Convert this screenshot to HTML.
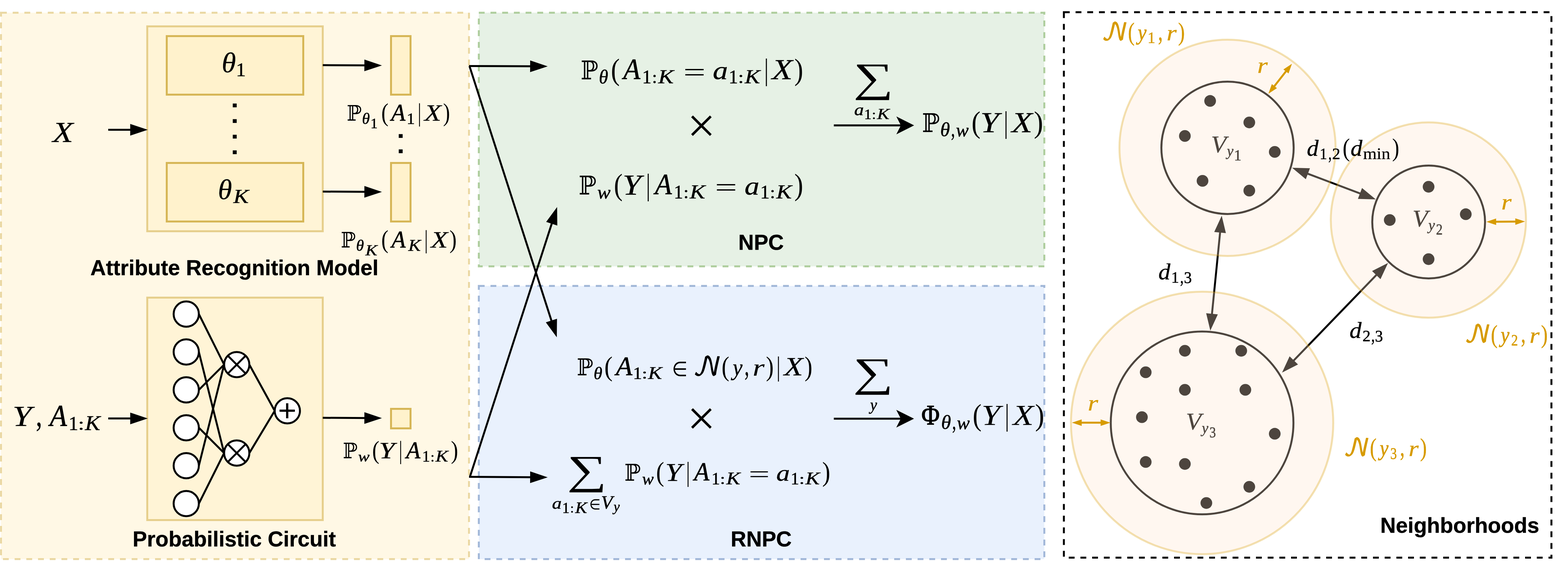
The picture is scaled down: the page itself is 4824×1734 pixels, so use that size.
<!DOCTYPE html>
<html lang="en">
<head>
<meta charset="utf-8">
<title>NPC and RNPC overview</title>
<style>
html,body{margin:0;padding:0;background:#fff}
svg{display:block;will-change:transform}

.sb{font-family:"Liberation Sans","DejaVu Sans",sans-serif;font-weight:700}
.sn{font-family:"Liberation Sans","DejaVu Sans",sans-serif;font-size:100px}
.it{font-family:"Liberation Serif","DejaVu Serif",serif;font-style:italic;font-size:100px}
.rm{font-family:"Liberation Serif","DejaVu Serif",serif;font-size:100px}
.ds{font-family:"DejaVu Serif","DejaVu Sans",serif;font-size:100px}
.dn{font-family:"DejaVu Sans","DejaVu Serif",sans-serif;font-size:100px}
.dm{font-family:"DejaVu Math TeX Gyre","DejaVu Serif","DejaVu Sans",serif;font-size:100px}
</style>
</head>
<body>
<svg width="4824" height="1734" viewBox="0 0 4824 1734">
<g id="panels">
<rect x="3" y="39" width="1440" height="1680" fill="#fff2cc" stroke="#d6b656" stroke-width="6" stroke-dasharray="18 18" fill-opacity="0.5" stroke-opacity="0.5"/>
<rect x="1473" y="39" width="1740" height="780" fill="#d5e8d4" stroke="#82b366" stroke-width="6" stroke-dasharray="18 18" fill-opacity="0.6" stroke-opacity="0.6"/>
<rect x="1473" y="879" width="1740" height="840" fill="#dae8fc" stroke="#6c8ebf" stroke-width="6" stroke-dasharray="18 18" fill-opacity="0.6" stroke-opacity="0.6"/>
<rect x="3273" y="37.5" width="1500" height="1677" fill="none" stroke="#000" stroke-width="6" stroke-dasharray="18 18"/>
</g>
<g id="left">
<rect x="453" y="81" width="540" height="630" fill="#fff2cc" stroke="#d6b656" stroke-width="6" fill-opacity="0.6" stroke-opacity="0.6"/>
<rect x="513" y="111" width="420" height="180" fill="#fff2cc" stroke="#d6b656" stroke-width="6"/>
<rect x="513" y="501" width="420" height="180" fill="#fff2cc" stroke="#d6b656" stroke-width="6"/>
<rect x="1203" y="111" width="60" height="180" fill="#fff2cc" stroke="#d6b656" stroke-width="6"/>
<rect x="1203" y="501" width="60" height="180" fill="#fff2cc" stroke="#d6b656" stroke-width="6"/>
<rect x="453" y="915" width="540" height="684" fill="#fff2cc" stroke="#d6b656" stroke-width="6" fill-opacity="0.6" stroke-opacity="0.6"/>
<rect x="1203" y="1257" width="60" height="60" fill="#fff2cc" stroke="#d6b656" stroke-width="6"/>
<text class="sn" transform="matrix(1.2708 0 0 1.0941 704.60 329.70)">.</text>
<text class="sn" transform="matrix(1.2708 0 0 1.0941 704.60 377.80)">.</text>
<text class="sn" transform="matrix(1.2708 0 0 1.0941 704.60 425.70)">.</text>
<text class="sn" transform="matrix(1.2708 0 0 1.0941 704.60 473.60)">.</text>
<text class="sn" transform="matrix(1.2603 0 0 1.0941 1215.29 423.90)">.</text>
<text class="sn" transform="matrix(1.2603 0 0 1.0941 1215.29 471.20)">.</text>
<line x1="333" y1="399" x2="403.6" y2="399" stroke="#000" stroke-width="6"/>
<polygon points="454.6,399 400.6,417 400.6,381" fill="#000"/>
<line x1="993" y1="200.3" x2="1124" y2="201" stroke="#000" stroke-width="6"/>
<polygon points="1175,201.3 1120.9,219 1121.1,183" fill="#000"/>
<line x1="993" y1="589" x2="1124" y2="589.7" stroke="#000" stroke-width="6"/>
<polygon points="1175,590 1120.9,607.7 1121.1,571.7" fill="#000"/>
<line x1="333" y1="1286.4" x2="403.6" y2="1286.4" stroke="#000" stroke-width="6"/>
<polygon points="454.6,1286.4 400.6,1304.4 400.6,1268.4" fill="#000"/>
<line x1="993" y1="1284.5" x2="1124" y2="1285.2" stroke="#000" stroke-width="6"/>
<polygon points="1175,1285.5 1120.9,1303.2 1121.1,1267.2" fill="#000"/>
<line x1="611.8" y1="965.6" x2="689.5" y2="1121" stroke="#000" stroke-width="6"/>
<line x1="611.8" y1="1082.1" x2="689.5" y2="1392.9" stroke="#000" stroke-width="6"/>
<line x1="611.8" y1="1198.6" x2="689.5" y2="1121" stroke="#000" stroke-width="6"/>
<line x1="611.8" y1="1315.2" x2="689.5" y2="1392.9" stroke="#000" stroke-width="6"/>
<line x1="611.8" y1="1431.7" x2="689.5" y2="1121" stroke="#000" stroke-width="6"/>
<line x1="611.8" y1="1548.2" x2="689.5" y2="1392.9" stroke="#000" stroke-width="6"/>
<line x1="767.1" y1="1121" x2="845.2" y2="1263" stroke="#000" stroke-width="6"/>
<line x1="767.1" y1="1392.9" x2="845.2" y2="1263" stroke="#000" stroke-width="6"/>
<circle cx="573" cy="965.6" r="38.8" fill="#fff" stroke="#000" stroke-width="6"/>
<circle cx="573" cy="1082.1" r="38.8" fill="#fff" stroke="#000" stroke-width="6"/>
<circle cx="573" cy="1198.6" r="38.8" fill="#fff" stroke="#000" stroke-width="6"/>
<circle cx="573" cy="1315.2" r="38.8" fill="#fff" stroke="#000" stroke-width="6"/>
<circle cx="573" cy="1431.7" r="38.8" fill="#fff" stroke="#000" stroke-width="6"/>
<circle cx="573" cy="1548.2" r="38.8" fill="#fff" stroke="#000" stroke-width="6"/>
<circle cx="728.3" cy="1121" r="38.8" fill="#fff" stroke="#000" stroke-width="6"/>
<line x1="700.9" y1="1093.6" x2="755.7" y2="1148.5" stroke="#000" stroke-width="6"/>
<line x1="700.9" y1="1148.5" x2="755.7" y2="1093.6" stroke="#000" stroke-width="6"/>
<circle cx="728.3" cy="1392.9" r="38.8" fill="#fff" stroke="#000" stroke-width="6"/>
<line x1="700.9" y1="1365.5" x2="755.7" y2="1420.3" stroke="#000" stroke-width="6"/>
<line x1="700.9" y1="1420.3" x2="755.7" y2="1365.5" stroke="#000" stroke-width="6"/>
<circle cx="884" cy="1263" r="38.8" fill="#fff" stroke="#000" stroke-width="6"/>
<text class="sn" transform="matrix(0.9715 0 0 0.9463 855.26 1294.42)">+</text>
<text class="sb" transform="matrix(1 0 0 1.02 278.1 846.1)" font-size="66.2" stroke="#000" stroke-width="0.6" stroke-linejoin="round">Attribute Recognition Model</text>
<text class="sb" transform="matrix(1 0 0 1.02 408.1 1679.7)" font-size="66.2" stroke="#000" stroke-width="0.6" stroke-linejoin="round">Probabilistic Circuit</text>
<text class="it" transform="matrix(1.0425 0 0 0.8936 161.71 436.25)" stroke="#000" stroke-width="0.52" stroke-linejoin="round">X</text>
<text class="it" transform="matrix(1.0648 0 0 0.8921 38.42 1308.70)" stroke="#000" stroke-width="0.61" stroke-linejoin="round">Y</text>
<text class="rm" transform="matrix(0.7856 0 0 1.0441 110.21 1309.50)" stroke="#000" stroke-width="0.44" stroke-linejoin="round">,</text>
<text class="it" transform="matrix(0.8670 0 0 0.9219 152.94 1308.50)" stroke="#000" stroke-width="1.12" stroke-linejoin="round">A</text>
<text class="rm" transform="matrix(0.6022 0 0 0.6041 210.81 1321.50)" stroke="#000" stroke-width="1.33" stroke-linejoin="round">1</text>
<text class="rm" transform="matrix(0.7053 0 0 0.5268 240.02 1320.75)" stroke="#000" stroke-width="1.30" stroke-linejoin="round">:</text>
<text class="it" transform="matrix(0.7011 0 0 0.6250 261.52 1321.50)" stroke="#000" stroke-width="1.21" stroke-linejoin="round">K</text>
<text class="it" transform="matrix(0.8927 0 0 0.8566 681.94 222.02)" stroke="#000" stroke-width="0.46" stroke-linejoin="round">θ</text>
<text class="rm" transform="matrix(0.6135 0 0 0.5977 725.71 234.20)" stroke="#000" stroke-width="1.32" stroke-linejoin="round">1</text>
<text class="it" transform="matrix(0.8808 0 0 0.8566 670.40 611.82)" stroke="#000" stroke-width="0.46" stroke-linejoin="round">θ</text>
<text class="it" transform="matrix(0.7053 0 0 0.6183 718.03 624.20)" stroke="#000" stroke-width="1.21" stroke-linejoin="round">K</text>
<text class="ds" transform="matrix(0.6116 0 0 0.6596 1066.63 371.40)">ℙ</text>
<text class="it" transform="matrix(0.4869 0 0 0.4907 1113.82 380.72)" stroke="#000" stroke-width="1.64" stroke-linejoin="round">θ</text>
<text class="rm" transform="matrix(0.4403 0 0 0.4469 1139.83 394.30)" stroke="#000" stroke-width="1.80" stroke-linejoin="round">1</text>
<text class="rm" transform="matrix(0.6658 0 0 0.7764 1172.97 372.47)">(</text>
<text class="it" transform="matrix(0.7161 0 0 0.7484 1203.62 370.90)" stroke="#000" stroke-width="1.37" stroke-linejoin="round">A</text>
<text class="rm" transform="matrix(0.5084 0 0 0.4900 1250.93 380.70)" stroke="#000" stroke-width="1.60" stroke-linejoin="round">1</text>
<text class="rm" transform="matrix(0.5371 0 0 0.7731 1285.37 372.24)">|</text>
<text class="it" transform="matrix(0.8547 0 0 0.7267 1305.49 371.15)" stroke="#000" stroke-width="0.63" stroke-linejoin="round">X</text>
<text class="rm" transform="matrix(0.6346 0 0 0.7764 1363.25 372.47)">)</text>
<text class="ds" transform="matrix(0.6101 0 0 0.6596 1048.54 761.40)">ℙ</text>
<text class="it" transform="matrix(0.4893 0 0 0.4907 1095.51 770.72)" stroke="#000" stroke-width="1.63" stroke-linejoin="round">θ</text>
<text class="it" transform="matrix(0.5473 0 0 0.4624 1124.24 785.10)" stroke="#000" stroke-width="1.58" stroke-linejoin="round">K</text>
<text class="rm" transform="matrix(0.6619 0 0 0.7764 1173.09 762.47)">(</text>
<text class="it" transform="matrix(0.7116 0 0 0.7484 1204.39 760.90)" stroke="#000" stroke-width="1.37" stroke-linejoin="round">A</text>
<text class="it" transform="matrix(0.5695 0 0 0.5070 1256.27 770.70)" stroke="#000" stroke-width="1.49" stroke-linejoin="round">K</text>
<text class="rm" transform="matrix(0.5371 0 0 0.7731 1305.67 762.24)">|</text>
<text class="it" transform="matrix(0.8532 0 0 0.7267 1325.78 761.15)" stroke="#000" stroke-width="0.63" stroke-linejoin="round">X</text>
<text class="rm" transform="matrix(0.6658 0 0 0.7764 1382.65 762.47)">)</text>
<text class="ds" transform="matrix(0.6028 0 0 0.6596 1054.77 1409.10)">ℙ</text>
<text class="it" transform="matrix(0.5285 0 0 0.4650 1101.84 1419.19)" stroke="#000" stroke-width="1.61" stroke-linejoin="round">w</text>
<text class="rm" transform="matrix(0.6658 0 0 0.7764 1145.07 1410.17)">(</text>
<text class="it" transform="matrix(0.8743 0 0 0.7252 1165.81 1408.80)" stroke="#000" stroke-width="0.75" stroke-linejoin="round">Y</text>
<text class="rm" transform="matrix(0.5371 0 0 0.7731 1227.27 1409.94)">|</text>
<text class="it" transform="matrix(0.7161 0 0 0.7484 1249.52 1408.60)" stroke="#000" stroke-width="1.37" stroke-linejoin="round">A</text>
<text class="rm" transform="matrix(0.4857 0 0 0.4900 1298.63 1419.10)" stroke="#000" stroke-width="1.64" stroke-linejoin="round">1</text>
<text class="rm" transform="matrix(0.4589 0 0 0.4262 1324.17 1418.50)" stroke="#000" stroke-width="1.81" stroke-linejoin="round">:</text>
<text class="it" transform="matrix(0.5806 0 0 0.5070 1340.08 1419.10)" stroke="#000" stroke-width="1.47" stroke-linejoin="round">K</text>
<text class="rm" transform="matrix(0.6658 0 0 0.7764 1387.35 1410.17)">)</text>
</g>
<g id="mid">
<line x1="1443" y1="203" x2="1634" y2="203.8" stroke="#000" stroke-width="6"/>
<polygon points="1685,204 1630.9,221.8 1631.1,185.8" fill="#000"/>
<line x1="1444.3" y1="203" x2="1697.4" y2="988.5" stroke="#000" stroke-width="6"/>
<polygon points="1713,1037 1679.3,991.1 1713.6,980.1" fill="#000"/>
<line x1="1443" y1="1466" x2="1634" y2="1467.2" stroke="#000" stroke-width="6"/>
<polygon points="1685,1467.5 1630.9,1485.2 1631.1,1449.2" fill="#000"/>
<line x1="1445.7" y1="1466" x2="1698.3" y2="685" stroke="#000" stroke-width="6"/>
<polygon points="1714,636.5 1714.5,693.4 1680.3,682.3" fill="#000"/>
<text class="ds" transform="matrix(0.7189 0 0 0.7992 1786.23 243.60)">ℙ</text>
<text class="it" transform="matrix(0.5800 0 0 0.5969 1842.47 255.82)" stroke="#000" stroke-width="1.36" stroke-linejoin="round">θ</text>
<text class="rm" transform="matrix(0.8176 0 0 0.9407 1879.61 244.90)">(</text>
<text class="it" transform="matrix(0.8551 0 0 0.9100 1917.68 243.10)" stroke="#000" stroke-width="1.13" stroke-linejoin="round">A</text>
<text class="rm" transform="matrix(0.5795 0 0 0.5963 1975.51 255.80)" stroke="#000" stroke-width="1.36" stroke-linejoin="round">1</text>
<text class="rm" transform="matrix(0.5779 0 0 0.5199 2005.63 255.06)" stroke="#000" stroke-width="1.46" stroke-linejoin="round">:</text>
<text class="it" transform="matrix(0.7122 0 0 0.6168 2025.03 255.80)" stroke="#000" stroke-width="1.20" stroke-linejoin="round">K</text>
<text class="rm" transform="matrix(1.2142 0 0 0.7984 2102.15 248.78)">=</text>
<text class="it" transform="matrix(0.9292 0 0 0.7874 2192.93 243.35)" stroke="#000" stroke-width="0.70" stroke-linejoin="round">a</text>
<text class="rm" transform="matrix(0.5738 0 0 0.5963 2241.86 255.80)" stroke="#000" stroke-width="1.37" stroke-linejoin="round">1</text>
<text class="rm" transform="matrix(0.6458 0 0 0.5199 2270.59 255.06)" stroke="#000" stroke-width="1.37" stroke-linejoin="round">:</text>
<text class="it" transform="matrix(0.7053 0 0 0.6168 2291.13 255.80)" stroke="#000" stroke-width="1.21" stroke-linejoin="round">K</text>
<text class="rm" transform="matrix(0.6508 0 0 0.9368 2351.19 244.62)">|</text>
<text class="it" transform="matrix(1.0469 0 0 0.8821 2374.63 243.35)" stroke="#000" stroke-width="0.52" stroke-linejoin="round">X</text>
<text class="rm" transform="matrix(0.8176 0 0 0.9407 2443.77 244.90)">)</text>
<text class="ds" transform="matrix(0.7278 0 0 0.7992 1779.99 597.80)">ℙ</text>
<text class="it" transform="matrix(0.6150 0 0 0.5670 1837.43 610.31)" stroke="#000" stroke-width="1.35" stroke-linejoin="round">w</text>
<text class="rm" transform="matrix(0.8060 0 0 0.9407 1888.86 599.10)">(</text>
<text class="it" transform="matrix(1.0359 0 0 0.8806 1915.28 597.50)" stroke="#000" stroke-width="0.63" stroke-linejoin="round">Y</text>
<text class="rm" transform="matrix(0.6508 0 0 0.9368 1987.79 598.82)">|</text>
<text class="it" transform="matrix(0.8506 0 0 0.9100 2014.95 597.30)" stroke="#000" stroke-width="1.14" stroke-linejoin="round">A</text>
<text class="rm" transform="matrix(0.5709 0 0 0.5963 2072.88 610.20)" stroke="#000" stroke-width="1.37" stroke-linejoin="round">1</text>
<text class="rm" transform="matrix(0.5949 0 0 0.5199 2102.49 609.46)" stroke="#000" stroke-width="1.44" stroke-linejoin="round">:</text>
<text class="it" transform="matrix(0.7122 0 0 0.6168 2122.03 610.20)" stroke="#000" stroke-width="1.20" stroke-linejoin="round">K</text>
<text class="rm" transform="matrix(1.2120 0 0 0.7984 2199.46 602.98)">=</text>
<text class="it" transform="matrix(0.9107 0 0 0.7874 2290.79 597.55)" stroke="#000" stroke-width="0.71" stroke-linejoin="round">a</text>
<text class="rm" transform="matrix(0.5823 0 0 0.5963 2338.78 610.20)" stroke="#000" stroke-width="1.36" stroke-linejoin="round">1</text>
<text class="rm" transform="matrix(0.5949 0 0 0.5199 2368.59 609.46)" stroke="#000" stroke-width="1.44" stroke-linejoin="round">:</text>
<text class="it" transform="matrix(0.7136 0 0 0.6168 2388.34 610.20)" stroke="#000" stroke-width="1.20" stroke-linejoin="round">K</text>
<text class="rm" transform="matrix(0.8176 0 0 0.9407 2443.77 599.10)">)</text>
<text class="ds" transform="matrix(0.6719 0 0 0.7205 1774.55 1153.80)">ℙ</text>
<text class="it" transform="matrix(0.5442 0 0 0.5370 1826.14 1164.52)" stroke="#000" stroke-width="1.48" stroke-linejoin="round">θ</text>
<text class="rm" transform="matrix(0.7670 0 0 0.8481 1859.33 1154.97)">(</text>
<text class="it" transform="matrix(0.8327 0 0 0.8189 1894.85 1153.30)" stroke="#000" stroke-width="1.21" stroke-linejoin="round">A</text>
<text class="rm" transform="matrix(0.5624 0 0 0.5364 1947.26 1164.50)" stroke="#000" stroke-width="1.46" stroke-linejoin="round">1</text>
<text class="rm" transform="matrix(0.6373 0 0 0.4671 1974.26 1163.84)" stroke="#000" stroke-width="1.45" stroke-linejoin="round">:</text>
<text class="it" transform="matrix(0.6429 0 0 0.5549 1993.65 1164.50)" stroke="#000" stroke-width="1.34" stroke-linejoin="round">K</text>
<text class="dn" transform="matrix(0.5484 0 0 0.6197 2067.41 1156.27)">∈</text>
<text class="dm" transform="matrix(0.7964 0 0 0.7926 2131.63 1153.48)" stroke="#000" stroke-width="1.01" stroke-linejoin="round">𝒩</text>
<text class="rm" transform="matrix(0.7125 0 0 0.8481 2220.07 1154.97)">(</text>
<text class="it" transform="matrix(0.6764 0 0 0.7284 2254.25 1153.54)" stroke="#000" stroke-width="0.85" stroke-linejoin="round">y</text>
<text class="rm" transform="matrix(0.5708 0 0 0.9276 2290.53 1154.25)" stroke="#000" stroke-width="0.53" stroke-linejoin="round">,</text>
<text class="it" transform="matrix(0.9415 0 0 0.7351 2315.38 1154.55)" stroke="#000" stroke-width="0.24" stroke-linejoin="round">r</text>
<text class="rm" transform="matrix(0.7125 0 0 0.8481 2356.60 1154.97)">)</text>
<text class="rm" transform="matrix(0.5867 0 0 0.8445 2388.88 1154.72)">|</text>
<text class="it" transform="matrix(0.9612 0 0 0.7945 2411.94 1153.55)" stroke="#000" stroke-width="0.57" stroke-linejoin="round">X</text>
<text class="rm" transform="matrix(0.7242 0 0 0.8481 2475.17 1154.97)">)</text>
<text class="ds" transform="matrix(0.6675 0 0 0.7149 1920.97 1477.80)">ℙ</text>
<text class="it" transform="matrix(0.5364 0 0 0.5054 1975.62 1489.20)" stroke="#000" stroke-width="1.54" stroke-linejoin="round">w</text>
<text class="rm" transform="matrix(0.7476 0 0 0.8415 2018.61 1478.96)">(</text>
<text class="it" transform="matrix(0.9236 0 0 0.7867 2046.62 1477.50)" stroke="#000" stroke-width="0.70" stroke-linejoin="round">Y</text>
<text class="rm" transform="matrix(0.5822 0 0 0.8379 2110.92 1478.71)">|</text>
<text class="it" transform="matrix(0.7684 0 0 0.8124 2135.60 1477.30)" stroke="#000" stroke-width="1.27" stroke-linejoin="round">A</text>
<text class="rm" transform="matrix(0.5227 0 0 0.5321 2188.91 1489.10)" stroke="#000" stroke-width="1.52" stroke-linejoin="round">1</text>
<text class="rm" transform="matrix(0.5864 0 0 0.4633 2215.06 1488.44)" stroke="#000" stroke-width="1.52" stroke-linejoin="round">:</text>
<text class="it" transform="matrix(0.6416 0 0 0.5505 2234.45 1489.10)" stroke="#000" stroke-width="1.34" stroke-linejoin="round">K</text>
<text class="rm" transform="matrix(1.1497 0 0 0.7142 2303.37 1482.44)">=</text>
<text class="it" transform="matrix(0.8345 0 0 0.7030 2388.31 1477.54)" stroke="#000" stroke-width="0.78" stroke-linejoin="round">a</text>
<text class="rm" transform="matrix(0.5227 0 0 0.5321 2432.41 1489.10)" stroke="#000" stroke-width="1.52" stroke-linejoin="round">1</text>
<text class="rm" transform="matrix(0.6203 0 0 0.4633 2458.29 1488.44)" stroke="#000" stroke-width="1.48" stroke-linejoin="round">:</text>
<text class="it" transform="matrix(0.6568 0 0 0.5505 2477.97 1489.10)" stroke="#000" stroke-width="1.33" stroke-linejoin="round">K</text>
<text class="rm" transform="matrix(0.7476 0 0 0.8415 2529.59 1478.96)">)</text>
<text class="rm" transform="matrix(1.7170 0 0 1.2562 1744.49 1486.76)">∑</text>
<text class="it" transform="matrix(0.5941 0 0 0.4991 1698.33 1563.94)" stroke="#000" stroke-width="1.46" stroke-linejoin="round">a</text>
<text class="rm" transform="matrix(0.4545 0 0 0.4721 1729.61 1576.80)" stroke="#000" stroke-width="1.73" stroke-linejoin="round">1</text>
<text class="rm" transform="matrix(0.4079 0 0 0.4104 1754.17 1576.22)" stroke="#000" stroke-width="1.96" stroke-linejoin="round">:</text>
<text class="it" transform="matrix(0.5432 0 0 0.4885 1769.84 1576.80)" stroke="#000" stroke-width="1.55" stroke-linejoin="round">K</text>
<text class="dn" transform="matrix(0.3927 0 0 0.4404 1812.94 1565.97)" stroke="#000" stroke-width="0.48" stroke-linejoin="round">∈</text>
<text class="it" transform="matrix(0.5849 0 0 0.5669 1849.34 1564.25)" stroke="#000" stroke-width="1.39" stroke-linejoin="round">V</text>
<text class="it" transform="matrix(0.4244 0 0 0.4369 1887.84 1572.27)" stroke="#000" stroke-width="1.86" stroke-linejoin="round">y</text>
<text class="rm" transform="matrix(1.7370 0 0 1.2620 2624.80 280.83)">∑</text>
<text class="it" transform="matrix(0.5917 0 0 0.4991 2627.94 354.24)" stroke="#000" stroke-width="1.47" stroke-linejoin="round">a</text>
<text class="rm" transform="matrix(0.4573 0 0 0.4520 2658.48 366.30)" stroke="#000" stroke-width="1.76" stroke-linejoin="round">1</text>
<text class="rm" transform="matrix(0.4589 0 0 0.3926 2682.17 365.74)" stroke="#000" stroke-width="1.88" stroke-linejoin="round">:</text>
<text class="it" transform="matrix(0.5723 0 0 0.4676 2698.27 366.30)" stroke="#000" stroke-width="1.54" stroke-linejoin="round">K</text>
<text class="rm" transform="matrix(1.7454 0 0 1.2562 2624.26 1186.66)">∑</text>
<text class="it" transform="matrix(0.4793 0 0 0.5011 2676.90 1261.25)" stroke="#000" stroke-width="1.63" stroke-linejoin="round">y</text>
<text class="rm" transform="matrix(1.5538 0 0 1.5495 2113.91 438.47)">×</text>
<text class="rm" transform="matrix(1.5538 0 0 1.5495 2113.91 1338.27)">×</text>
<line x1="2565.3" y1="385.5" x2="2774.6" y2="385.5" stroke="#000" stroke-width="6"/>
<polygon points="2812.3,385.5 2757.6,412.9 2771.6,385.5 2757.6,358.1" fill="#000"/>
<line x1="2565.3" y1="1287.2" x2="2774.3" y2="1287.2" stroke="#000" stroke-width="6"/>
<polygon points="2812,1287.2 2757.3,1314.5 2771.3,1287.2 2757.3,1259.9" fill="#000"/>
<text class="ds" transform="matrix(0.7307 0 0 0.7992 2836.37 406.00)">ℙ</text>
<text class="it" transform="matrix(0.6039 0 0 0.5969 2892.65 418.42)" stroke="#000" stroke-width="1.33" stroke-linejoin="round">θ</text>
<text class="rm" transform="matrix(0.4767 0 0 0.7085 2925.98 419.20)" stroke="#000" stroke-width="1.35" stroke-linejoin="round">,</text>
<text class="it" transform="matrix(0.5883 0 0 0.5670 2940.99 418.51)" stroke="#000" stroke-width="1.38" stroke-linejoin="round">w</text>
<text class="rm" transform="matrix(0.8293 0 0 0.9407 2988.96 407.30)">(</text>
<text class="it" transform="matrix(1.0410 0 0 0.8806 3015.85 405.70)" stroke="#000" stroke-width="0.62" stroke-linejoin="round">Y</text>
<text class="rm" transform="matrix(0.6508 0 0 0.9368 3088.39 407.02)">|</text>
<text class="it" transform="matrix(1.0514 0 0 0.8821 3112.24 405.75)" stroke="#000" stroke-width="0.52" stroke-linejoin="round">X</text>
<text class="rm" transform="matrix(0.8527 0 0 0.9407 3180.75 407.30)">)</text>
<text class="rm" transform="matrix(0.7682 0 0 0.8623 2834.77 1305.10)" stroke="#000" stroke-width="2.21" stroke-linejoin="round">Φ</text>
<text class="it" transform="matrix(0.6158 0 0 0.5969 2895.39 1318.42)" stroke="#000" stroke-width="1.32" stroke-linejoin="round">θ</text>
<text class="rm" transform="matrix(0.4767 0 0 0.7085 2929.38 1319.20)" stroke="#000" stroke-width="1.35" stroke-linejoin="round">,</text>
<text class="it" transform="matrix(0.5962 0 0 0.5670 2943.87 1318.51)" stroke="#000" stroke-width="1.38" stroke-linejoin="round">w</text>
<text class="rm" transform="matrix(0.8215 0 0 0.9407 2992.59 1307.30)">(</text>
<text class="it" transform="matrix(1.0376 0 0 0.8867 3019.87 1305.90)" stroke="#000" stroke-width="0.21" stroke-linejoin="round">Y</text>
<text class="rm" transform="matrix(0.6508 0 0 0.9368 3091.79 1307.02)">|</text>
<text class="it" transform="matrix(1.0440 0 0 0.8867 3116.27 1305.90)" stroke="#000" stroke-width="0.21" stroke-linejoin="round">X</text>
<text class="rm" transform="matrix(0.8449 0 0 0.9407 3184.38 1307.30)">)</text>
<text class="sb" transform="matrix(1 0 0 1.02 2271.6 768)" font-size="66.2" stroke="#000" stroke-width="0.6" stroke-linejoin="round">NPC</text>
<text class="sb" transform="matrix(1 0 0 1.02 2248.1 1679.7)" font-size="66.2" stroke="#000" stroke-width="0.6" stroke-linejoin="round">RNPC</text>
</g>
<g id="right">
<line x1="4020.9" y1="533.1" x2="4186.8" y2="595.8" stroke="#000" stroke-width="6"/>
<polygon points="4232.6,613.1 4177.6,611.6 4190.3,577.9" fill="#000"/>
<polygon points="3975.1,515.8 4030.1,517.3 4017.4,551" fill="#000"/>
<line x1="3753.9" y1="712.1" x2="3728.4" y2="967.7" stroke="#000" stroke-width="6"/>
<polygon points="3723.6,1016.5 3710.8,963 3746.7,966.5" fill="#000"/>
<polygon points="3758.7,663.3 3771.5,716.8 3735.6,713.3" fill="#000"/>
<line x1="4236.2" y1="843.6" x2="3978.4" y2="1110.2" stroke="#000" stroke-width="6"/>
<polygon points="3944.3,1145.4 3967.5,1095.5 3993.4,1120.5" fill="#000"/>
<polygon points="4270.3,808.4 4247.1,858.3 4221.2,833.3" fill="#000"/>
<circle cx="3776.5" cy="454.4" r="203.5" fill="none" stroke="#000" stroke-width="6"/>
<circle cx="4395.3" cy="682.5" r="173.5" fill="none" stroke="#000" stroke-width="6"/>
<circle cx="3698.3" cy="1300.3" r="281" fill="none" stroke="#000" stroke-width="6"/>
<circle cx="3723" cy="310.3" r="18" fill="#000"/>
<circle cx="3843.5" cy="376.4" r="18" fill="#000"/>
<circle cx="3645.3" cy="418" r="18" fill="#000"/>
<circle cx="3921.8" cy="467" r="18" fill="#000"/>
<circle cx="3699.6" cy="556" r="18" fill="#000"/>
<circle cx="3843.5" cy="586" r="18" fill="#000"/>
<circle cx="4395.1" cy="574.2" r="18" fill="#000"/>
<circle cx="4275.6" cy="676.4" r="18" fill="#000"/>
<circle cx="4509.5" cy="658.6" r="18" fill="#000"/>
<circle cx="4395.1" cy="796.7" r="18" fill="#000"/>
<circle cx="3645.3" cy="1078.4" r="18" fill="#000"/>
<circle cx="3818.7" cy="1078.4" r="18" fill="#000"/>
<circle cx="3524.8" cy="1144.5" r="18" fill="#000"/>
<circle cx="3645.3" cy="1198.5" r="18" fill="#000"/>
<circle cx="3831.4" cy="1198.5" r="18" fill="#000"/>
<circle cx="3513.1" cy="1282.5" r="18" fill="#000"/>
<circle cx="3921.8" cy="1333.6" r="18" fill="#000"/>
<circle cx="3524.8" cy="1420.3" r="18" fill="#000"/>
<circle cx="3645.3" cy="1426.4" r="18" fill="#000"/>
<circle cx="3843.5" cy="1496.7" r="18" fill="#000"/>
<circle cx="3711.4" cy="1546.4" r="18" fill="#000"/>
<text class="it" transform="matrix(0.7789 0 0 0.7397 3725.68 468.69)" stroke="#000" stroke-width="0.66" stroke-linejoin="round">V</text>
<text class="it" transform="matrix(0.4509 0 0 0.4675 3774.76 478.76)" stroke="#000" stroke-width="1.74" stroke-linejoin="round">y</text>
<text class="rm" transform="matrix(0.4630 0 0 0.4671 3796.13 492.60)" stroke="#000" stroke-width="1.72" stroke-linejoin="round">1</text>
<text class="it" transform="matrix(0.7789 0 0 0.7397 4345.38 697.19)" stroke="#000" stroke-width="0.66" stroke-linejoin="round">V</text>
<text class="it" transform="matrix(0.4509 0 0 0.4675 4394.46 707.26)" stroke="#000" stroke-width="1.74" stroke-linejoin="round">y</text>
<text class="rm" transform="matrix(0.4066 0 0 0.4657 4418.11 721.10)" stroke="#000" stroke-width="1.83" stroke-linejoin="round">2</text>
<text class="it" transform="matrix(0.7789 0 0 0.7397 3648.48 1320.69)" stroke="#000" stroke-width="0.66" stroke-linejoin="round">V</text>
<text class="it" transform="matrix(0.4509 0 0 0.4675 3697.56 1330.76)" stroke="#000" stroke-width="1.74" stroke-linejoin="round">y</text>
<text class="rm" transform="matrix(0.3946 0 0 0.4738 3721.11 1345.18)" stroke="#000" stroke-width="1.84" stroke-linejoin="round">3</text>
<circle cx="3776.5" cy="454.4" r="332.5" fill="#ffe6cc" stroke="#d79b00" stroke-width="6" fill-opacity="0.3" stroke-opacity="0.3"/>
<circle cx="4394.5" cy="676.5" r="300.3" fill="#ffe6cc" stroke="#d79b00" stroke-width="6" fill-opacity="0.3" stroke-opacity="0.3"/>
<circle cx="3698.3" cy="1300.3" r="403.5" fill="#ffe6cc" stroke="#d79b00" stroke-width="6" fill-opacity="0.3" stroke-opacity="0.3"/>
<line x1="3918.9" y1="267.1" x2="3958.1" y2="217.2" stroke="#d79b00" stroke-width="6"/>
<polygon points="3974.8,196 3964.1,225.8 3948.4,213.4" fill="#d79b00"/>
<polygon points="3902.2,288.3 3912.9,258.5 3928.6,270.9" fill="#d79b00"/>
<line x1="4599.9" y1="681.8" x2="4664.9" y2="681.2" stroke="#d79b00" stroke-width="6"/>
<polygon points="4691.9,681 4662,691.3 4661.8,671.3" fill="#d79b00"/>
<polygon points="4572.9,682 4602.8,671.7 4603,691.7" fill="#d79b00"/>
<line x1="3324.8" y1="1299.4" x2="3389.1" y2="1299.4" stroke="#d79b00" stroke-width="6"/>
<polygon points="3416.1,1299.4 3386.1,1309.4 3386.1,1289.4" fill="#d79b00"/>
<polygon points="3297.8,1299.4 3327.8,1289.4 3327.8,1309.4" fill="#d79b00"/>
<text class="it" transform="matrix(0.8249 0 0 0.6720 3868.11 224.23)" fill="#d79b00" stroke="#d79b00" stroke-width="0.67" stroke-linejoin="round">r</text>
<text class="it" transform="matrix(0.8107 0 0 0.6720 4618.66 644.23)" fill="#d79b00" stroke="#d79b00" stroke-width="0.67" stroke-linejoin="round">r</text>
<text class="it" transform="matrix(0.8220 0 0 0.6720 3346.52 1262.23)" fill="#d79b00" stroke="#d79b00" stroke-width="0.67" stroke-linejoin="round">r</text>
<text class="dm" transform="matrix(0.7387 0 0 0.7261 3388.69 122.69)" fill="#d79b00" stroke="#d79b00" stroke-width="1.64" stroke-linejoin="round">𝒩</text>
<text class="rm" transform="matrix(0.6152 0 0 0.7775 3470.15 124.15)" fill="#d79b00" stroke="#d79b00" stroke-width="0.72" stroke-linejoin="round">(</text>
<text class="it" transform="matrix(0.6100 0 0 0.6659 3500.29 122.88)" fill="#d79b00" stroke="#d79b00" stroke-width="1.57" stroke-linejoin="round">y</text>
<text class="rm" transform="matrix(0.4744 0 0 0.4943 3530.53 132.30)" fill="#d79b00" stroke="#d79b00" stroke-width="1.65" stroke-linejoin="round">1</text>
<text class="rm" transform="matrix(0.5842 0 0 0.8474 3562.68 123.64)" fill="#d79b00" stroke="#d79b00" stroke-width="0.84" stroke-linejoin="round">,</text>
<text class="it" transform="matrix(0.7964 0 0 0.6720 3589.02 123.73)" fill="#d79b00" stroke="#d79b00" stroke-width="0.68" stroke-linejoin="round">r</text>
<text class="rm" transform="matrix(0.6152 0 0 0.7775 3624.57 124.15)" fill="#d79b00" stroke="#d79b00" stroke-width="0.72" stroke-linejoin="round">)</text>
<text class="dm" transform="matrix(0.7387 0 0 0.7261 4505.19 1052.49)" fill="#d79b00" stroke="#d79b00" stroke-width="1.64" stroke-linejoin="round">𝒩</text>
<text class="rm" transform="matrix(0.6152 0 0 0.7775 4586.65 1053.95)" fill="#d79b00" stroke="#d79b00" stroke-width="0.72" stroke-linejoin="round">(</text>
<text class="it" transform="matrix(0.6100 0 0 0.6659 4616.79 1052.68)" fill="#d79b00" stroke="#d79b00" stroke-width="1.57" stroke-linejoin="round">y</text>
<text class="rm" transform="matrix(0.4166 0 0 0.4928 4649.37 1062.10)" fill="#d79b00" stroke="#d79b00" stroke-width="1.76" stroke-linejoin="round">2</text>
<text class="rm" transform="matrix(0.5842 0 0 0.8474 4679.18 1053.44)" fill="#d79b00" stroke="#d79b00" stroke-width="0.84" stroke-linejoin="round">,</text>
<text class="it" transform="matrix(0.7964 0 0 0.6720 4705.52 1053.53)" fill="#d79b00" stroke="#d79b00" stroke-width="0.68" stroke-linejoin="round">r</text>
<text class="rm" transform="matrix(0.6152 0 0 0.7775 4741.07 1053.95)" fill="#d79b00" stroke="#d79b00" stroke-width="0.72" stroke-linejoin="round">)</text>
<text class="dm" transform="matrix(0.7387 0 0 0.7261 4133.09 1400.99)" fill="#d79b00" stroke="#d79b00" stroke-width="1.64" stroke-linejoin="round">𝒩</text>
<text class="rm" transform="matrix(0.6152 0 0 0.7775 4214.55 1402.45)" fill="#d79b00" stroke="#d79b00" stroke-width="0.72" stroke-linejoin="round">(</text>
<text class="it" transform="matrix(0.6100 0 0 0.6659 4244.69 1401.18)" fill="#d79b00" stroke="#d79b00" stroke-width="1.57" stroke-linejoin="round">y</text>
<text class="rm" transform="matrix(0.4043 0 0 0.5014 4277.17 1411.21)" fill="#d79b00" stroke="#d79b00" stroke-width="1.77" stroke-linejoin="round">3</text>
<text class="rm" transform="matrix(0.5842 0 0 0.8474 4307.08 1401.94)" fill="#d79b00" stroke="#d79b00" stroke-width="0.84" stroke-linejoin="round">,</text>
<text class="it" transform="matrix(0.7964 0 0 0.6720 4333.42 1402.03)" fill="#d79b00" stroke="#d79b00" stroke-width="0.68" stroke-linejoin="round">r</text>
<text class="rm" transform="matrix(0.6152 0 0 0.7775 4368.97 1402.45)" fill="#d79b00" stroke="#d79b00" stroke-width="0.72" stroke-linejoin="round">)</text>
<text class="it" transform="matrix(0.7222 0 0 0.7014 4020.41 478.99)" stroke="#000" stroke-width="0.84" stroke-linejoin="round">d</text>
<text class="rm" transform="matrix(0.4573 0 0 0.4943 4059.88 488.90)" stroke="#000" stroke-width="1.68" stroke-linejoin="round">1</text>
<text class="rm" transform="matrix(0.3827 0 0 0.5845 4087.04 489.65)" stroke="#000" stroke-width="1.65" stroke-linejoin="round">,</text>
<text class="rm" transform="matrix(0.4989 0 0 0.4928 4098.61 488.90)" stroke="#000" stroke-width="1.61" stroke-linejoin="round">2</text>
<text class="rm" transform="matrix(0.6814 0 0 0.7830 4130.51 480.38)">(</text>
<text class="it" transform="matrix(0.7286 0 0 0.7014 4154.89 478.99)" stroke="#000" stroke-width="0.84" stroke-linejoin="round">d</text>
<text class="rm" transform="matrix(0.6580 0 0 0.7830 4282.98 480.38)">)</text>
<text class="rm" transform="matrix(0.5396 0 0 0.5027 4193.42 489.15)" stroke="#000" stroke-width="0.58" stroke-linejoin="round">min</text>
<text class="it" transform="matrix(0.7391 0 0 0.7014 3563.76 859.39)" stroke="#000" stroke-width="0.83" stroke-linejoin="round">d</text>
<text class="rm" transform="matrix(0.4829 0 0 0.4943 3603.26 869.30)" stroke="#000" stroke-width="1.64" stroke-linejoin="round">1</text>
<text class="rm" transform="matrix(0.4230 0 0 0.5845 3630.79 870.05)" stroke="#000" stroke-width="1.59" stroke-linejoin="round">,</text>
<text class="rm" transform="matrix(0.4817 0 0 0.5014 3642.39 869.91)" stroke="#000" stroke-width="1.63" stroke-linejoin="round">3</text>
<text class="it" transform="matrix(0.7434 0 0 0.7014 4151.65 1039.39)" stroke="#000" stroke-width="0.83" stroke-linejoin="round">d</text>
<text class="rm" transform="matrix(0.4964 0 0 0.4928 4191.72 1049.30)" stroke="#000" stroke-width="1.62" stroke-linejoin="round">2</text>
<text class="rm" transform="matrix(0.4297 0 0 0.5845 4218.76 1050.05)" stroke="#000" stroke-width="1.58" stroke-linejoin="round">,</text>
<text class="rm" transform="matrix(0.4890 0 0 0.5014 4230.36 1049.91)" stroke="#000" stroke-width="1.62" stroke-linejoin="round">3</text>
<text class="sb" transform="matrix(1 0 0 1.02 4246.4 1637.5)" font-size="66.2" stroke="#000" stroke-width="0.6" stroke-linejoin="round">Neighborhoods</text>
</g>
</svg>
</body>
</html>
